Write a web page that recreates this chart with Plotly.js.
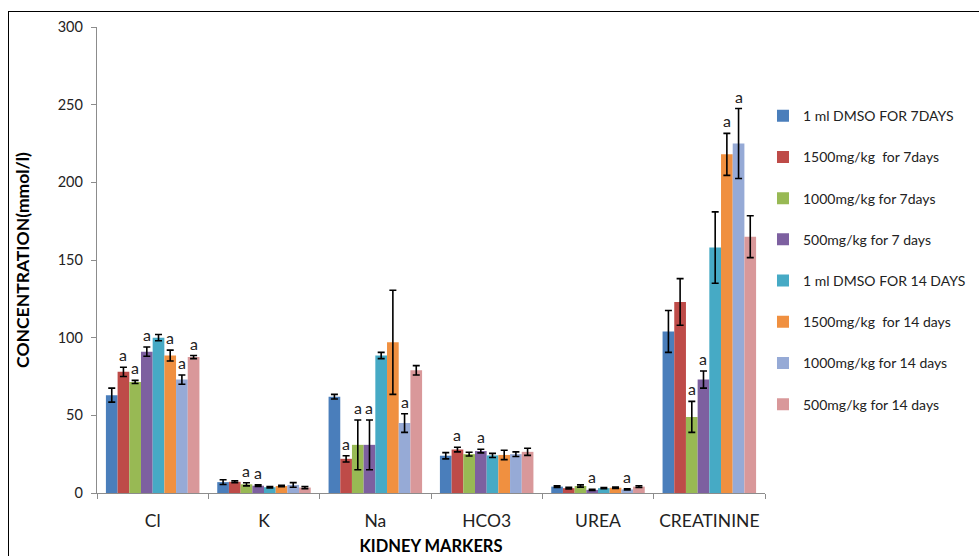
<!DOCTYPE html>
<html>
<head>
<meta charset="utf-8">
<script src="https://cdn.plot.ly/plotly-3.0.1.min.js"></script>
<style>
  html, body { margin: 0; padding: 0; background: #fff; overflow: hidden; }
  #chart { width: 979px; height: 556px; }
  #frame { position: absolute; left: 8px; top: 11px; width: 2000px; height: 2000px;
           border-left: 1.6px solid #000; border-top: 1.6px solid #000; pointer-events: none; }
</style>
</head>
<body>
<div id="chart"></div>
<div id="frame"></div>
<script>
// ---- data ----
const categories = ["Cl", "K", "Na", "HCO3", "UREA", "CREATININE"];
const seriesNames = [
  "1 ml DMSO FOR 7DAYS",
  "1500mg/kg  for 7days",
  "1000mg/kg for 7days",
  "500mg/kg for 7 days",
  "1 ml DMSO FOR 14 DAYS",
  "1500mg/kg  for 14 days",
  "1000mg/kg for 14 days",
  "500mg/kg for 14 days"
];
const seriesColors = ["#4A7EBB", "#BE4B48", "#98B954", "#7D60A0", "#46AAC5", "#F09040", "#96AAD6", "#D9989A"];

const dmso7Values      = [63,   7.0, 62,   24,   4.1, 104];
const dmso7Errors      = [4.5,  1.5, 1.5,  2.0,  0.5, 13.5];
const dose1500d7Values = [78,   7.2, 22,   28,   3.1, 123];
const dose1500d7Errors = [3.0,  0.6, 2.0,  1.5,  0.5, 15];
const dose1000d7Values = [71.5, 5.6, 31,   25,   4.5, 49];
const dose1000d7Errors = [1.0,  1.0, 16,   1.2,  0.7, 10];
const dose500d7Values  = [91,   4.7, 31,   27,   2.0, 73];
const dose500d7Errors  = [3.0,  0.5, 16,   1.2,  0.4, 5.5];
const dmso14Values     = [100,  3.7, 88.5, 24.2, 3.1, 158];
const dmso14Errors     = [2.0,  0.5, 2.0,  1.3,  0.4, 23];
const dose1500d14Values= [88.5, 4.5, 97,   24.5, 3.4, 218];
const dose1500d14Errors= [3.5,  0.5, 33.5, 3.0,  0.5, 13.5];
const dose1000d14Values= [73,   5.2, 45,   25,   2.3, 225];
const dose1000d14Errors= [3.0,  1.5, 6.0,  1.5,  0.4, 22.5];
const dose500d14Values = [87.5, 3.5, 79,   26.5, 4.1, 165];
const dose500d14Errors = [1.0,  0.7, 3.0,  2.3,  0.6, 13.5];

const allValues = [dmso7Values, dose1500d7Values, dose1000d7Values, dose500d7Values,
                   dmso14Values, dose1500d14Values, dose1000d14Values, dose500d14Values];
const allErrors = [dmso7Errors, dose1500d7Errors, dose1000d7Errors, dose500d7Errors,
                   dmso14Errors, dose1500d14Errors, dose1000d14Errors, dose500d14Errors];

// significance marks "a": [category index, series index]
const sigMarks = [
  [0,1],[0,2],[0,3],[0,5],[0,6],[0,7],
  [1,2],[1,3],
  [2,1],[2,2],[2,3],[2,6],
  [3,1],[3,3],
  [4,3],[4,6],
  [5,2],[5,3],[5,5],[5,6]
];

const yTicks = [0, 50, 100, 150, 200, 250, 300];
const xTitle = "KIDNEY MARKERS";
const yTitle = "CONCENTRATION(mmol/l)";

// ---- chart ----
const FONT = "Lato, 'Open Sans', sans-serif";
const bargap = 0.16;
const nSeries = seriesNames.length;
const barW = (1 - bargap) / nSeries;

const traces = seriesNames.map((name, i) => ({
  type: "bar",
  name: name,
  x: categories,
  y: allValues[i],
  legendgroup: "g" + i,
  marker: { color: seriesColors[i], line: { width: 0 } },
  error_y: { type: "data", array: allErrors[i], visible: true, color: "#000", thickness: 1.6, width: 3.5 },
  hoverinfo: "x+y+name"
}));

const annotations = sigMarks.map(([c, s]) => ({
  x: c + (s - (nSeries - 1) / 2) * barW,
  y: allValues[s][c] + allErrors[s][c],
  xref: "x", yref: "y",
  text: "a", showarrow: false,
  yanchor: "bottom", xanchor: "center",
  yshift: 1,
  font: { family: FONT, size: 16, color: "#222" }
}));

const layout = {
  width: 979, height: 556,
  margin: { l: 97, r: 214, t: 27, b: 63, autoexpand: false },
  paper_bgcolor: "#fff", plot_bgcolor: "#fff",
  barmode: "group", bargap: bargap, bargroupgap: 0,
  showlegend: true,
  font: { family: FONT, color: "#222" },
  xaxis: {
    type: "category",
    tickson: "boundaries",
    tickangle: 0,
    ticks: "outside", ticklen: 5, tickcolor: "#8c8c8c", tickwidth: 1,
    showline: true, linecolor: "#8c8c8c", linewidth: 1.2,
    showgrid: false, zeroline: false,
    tickfont: { family: FONT, size: 17.5, color: "#222" },
    ticklabelstandoff: 12,
    title: { text: xTitle, font: { family: FONT, size: 16.5, color: "#000", weight: "bold" }, standoff: 27 }
  },
  yaxis: {
    range: [0, 300],
    tickvals: yTicks,
    ticks: "outside", ticklen: 5, tickcolor: "#8c8c8c", tickwidth: 1,
    showline: true, linecolor: "#8c8c8c", linewidth: 1.2,
    showgrid: false, zeroline: false,
    tickfont: { family: FONT, size: 14.5, color: "#222" },
    ticklabelstandoff: 5,
    title: { text: yTitle, font: { family: FONT, size: 17.5, color: "#000", weight: "bold" }, standoff: 23 }
  },
  legend: {
    x: 0.997, xanchor: "left", y: 0.843, yanchor: "top",
    font: { family: FONT, size: 14, color: "#222" },
    tracegroupgap: 20,
    itemwidth: 30,
    bgcolor: "rgba(0,0,0,0)"
  },
  annotations: annotations
};

Plotly.newPlot("chart", traces, layout, { displayModeBar: false, staticPlot: true });
</script>
</body>
</html>
